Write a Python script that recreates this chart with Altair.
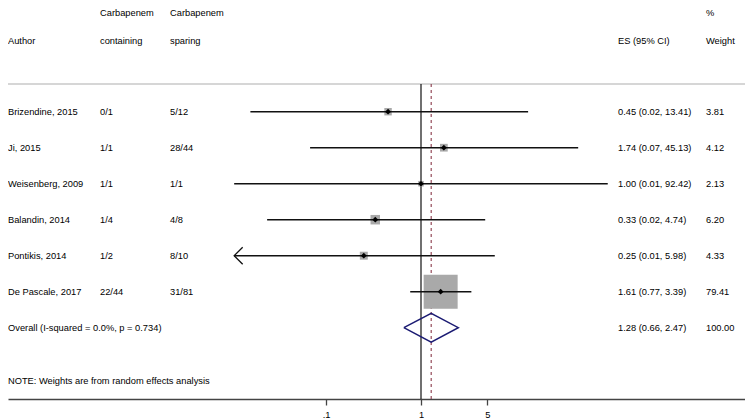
import math
import altair as alt
import pandas as pd

# ---------------- data ----------------
authors = ["Brizendine, 2015", "Ji, 2015", "Weisenberg, 2009",
           "Balandin, 2014", "Pontikis, 2014", "De Pascale, 2017"]
containing = ["0/1", "1/1", "1/1", "1/4", "1/2", "22/44"]
sparing = ["5/12", "28/44", "1/1", "4/8", "8/10", "31/81"]
es = [0.45, 1.74, 1.00, 0.33, 0.25, 1.61]
ci_low = [0.016, 0.068, 0.0108, 0.024, 0.010, 0.77]
ci_high = [13.41, 45.13, 92.42, 4.74, 5.98, 3.39]
weights = [3.81, 4.12, 2.13, 6.20, 4.33, 79.41]

overall_es, overall_low, overall_high = 1.28, 0.66, 2.47
overall_label = "Overall  (I-squared = 0.0%, p = 0.734)"
overall_weight = "100.00"
note_text = "NOTE: Weights are from random effects analysis"

header_top = ["Carbapenem", "Carbapenem", "%"]
header_main = ["Author", "containing", "sparing", "ES (95% CI)", "Weight"]

tick_values = [0.1, 1, 5]
tick_labels = [".1", "1", "5"]
plot_limit = 92.42  # symmetric plotting limit of the CI region

# ---------------- layout ----------------
W, H = 737, 391
FONT = "Liberation Sans"
FS = 9.3
TXT = "#000000"
col_x = {"author": 0, "cont": 92, "spar": 162, "es": 610, "wt": 698}

x_center = 413.0
px_dec = 95.0
xscale = alt.Scale(type="log", domain=[10 ** (-x_center / px_dec), 10 ** ((W - x_center) / px_dec)],
                   nice=False, zero=False)
first_row_y, row_h = 103.7, 36.0
yscale = alt.Scale(domain=[-first_row_y / row_h, (H - first_row_y) / row_h],
                   reverse=True, nice=False, zero=False)

label_expr = ""
for v, l in zip(tick_values, tick_labels):
    label_expr += f"abs(datum.value - {v}) < 1e-6 ? '{l}' : "
label_expr += "''"

xaxis = alt.Axis(values=tick_values, labelExpr=label_expr, grid=False, title=None,
                 domainColor="#444444", domainWidth=1.6, tickColor="#444444", tickWidth=1.3,
                 tickSize=6, labelFont=FONT, labelFontSize=FS, labelColor=TXT,
                 labelPadding=5, labelFlush=False)

def X(field=None, datum=None):
    if datum is not None:
        return alt.X(datum=datum, type="quantitative", scale=xscale, axis=xaxis)
    return alt.X(field, type="quantitative", scale=xscale, axis=xaxis)

def Y(field=None, datum=None):
    if datum is not None:
        return alt.Y(datum=datum, type="quantitative", scale=yscale, axis=None)
    return alt.Y(field, type="quantitative", scale=yscale, axis=None)

r_hdr_top = -2.75
r_hdr_main = -1.96
r_sep = -0.77
r_overall = len(authors)
r_note = r_overall + 1.48

# ---------------- tables ----------------
lower_lim = round(1.0 / plot_limit, 4)
studies = pd.DataFrame({
    "author": authors, "cont": containing, "spar": sparing,
    "es": es, "lo": ci_low, "hi": ci_high, "w": weights,
})
studies["r"] = range(len(authors))
studies["lo_p"] = [max(v, lower_lim) for v in ci_low]
studies["hi_p"] = [min(v, plot_limit) for v in ci_high]
studies["es_txt"] = [f"{e:.2f} ({l:.2f}, {h:.2f})" for e, l, h in zip(es, ci_low, ci_high)]
studies["w_txt"] = [f"{w:.2f}" for w in weights]
arrows = studies[studies["lo"] < lower_lim].copy()

text_rows = []
def add_text(col, r, t):
    text_rows.append({"col": col, "r": r, "t": t})

add_text("cont", r_hdr_top, header_top[0])
add_text("spar", r_hdr_top, header_top[1])
add_text("wt", r_hdr_top, header_top[2])
for c, t in zip(["author", "cont", "spar", "es", "wt"], header_main):
    add_text(c, r_hdr_main, t)
for _, row in studies.iterrows():
    add_text("author", row["r"], row["author"])
    add_text("cont", row["r"], row["cont"])
    add_text("spar", row["r"], row["spar"])
    add_text("es", row["r"], row["es_txt"])
    add_text("wt", row["r"], row["w_txt"])
add_text("author", r_overall, overall_label)
add_text("es", r_overall, f"{overall_es:.2f} ({overall_low:.2f}, {overall_high:.2f})")
add_text("wt", r_overall, overall_weight)
add_text("author", r_note, note_text)
texts = pd.DataFrame(text_rows)

diamond = pd.DataFrame({
    "x": [overall_low, overall_es, overall_high, overall_es, overall_low],
    "r": [r_overall, r_overall - 0.4, r_overall, r_overall + 0.4, r_overall],
    "o": [0, 1, 2, 3, 4],
})

one = pd.DataFrame({"k": [0]})

# ---------------- layers ----------------
layers = []

layers.append(alt.Chart(one).mark_rule(color="#c8c8c8", strokeWidth=1.6).encode(
    x=alt.value(0), x2=alt.value("width"), y=Y(datum=r_sep)))

layers.append(alt.Chart(one).mark_rule(color="#111111", strokeWidth=1.2).encode(
    x=X(datum=1), y=Y(datum=r_sep), y2=alt.value("height")))

layers.append(alt.Chart(one).mark_rule(color="#8B3A4A", strokeWidth=1.1, strokeDash=[3, 3]).encode(
    x=X(datum=overall_es), y=Y(datum=r_sep), y2=alt.value("height")))

layers.append(alt.Chart(studies).mark_square(color="#a9a9a9", opacity=1).encode(
    x=X("es"), y=Y("r"),
    size=alt.Size("w:Q", scale=alt.Scale(type="linear", domain=[0, weights[-1]], range=[0, 34 * 34]),
                  legend=None)))

layers.append(alt.Chart(studies).mark_rule(color="#111111", strokeWidth=1.4).encode(
    x=X("lo_p"), x2="hi_p", y=Y("r")))

layers.append(alt.Chart(arrows).mark_point(shape="M 1 -1 L 0 0 L 1 1", filled=False,
                                           color="#111111", strokeWidth=1.3, size=289, opacity=1).encode(
    x=X("lo_p"), y=Y("r")))

layers.append(alt.Chart(studies).mark_point(shape="diamond", filled=True, color="#000000",
                                            size=34, opacity=1).encode(
    x=X("es"), y=Y("r")))

layers.append(alt.Chart(diamond).mark_line(color="#1b1b73", strokeWidth=1.5).encode(
    x=X("x"), y=Y("r"), order="o:Q"))

for col, xpos in col_x.items():
    layers.append(alt.Chart(texts[texts["col"] == col]).mark_text(
        align="left", baseline="middle", font=FONT, fontSize=FS, color=TXT).encode(
        x=alt.value(xpos), y=Y("r"), text="t:N"))

chart = alt.layer(*layers).properties(
    width=W, height=H,
    background="white",
    autosize=alt.AutoSizeParams(type="none"),
    padding={"left": 0, "top": 0, "right": 0, "bottom": 21},
).configure_view(stroke=None)

chart.save("out.html", embed_options={"renderer": "svg", "actions": False})
